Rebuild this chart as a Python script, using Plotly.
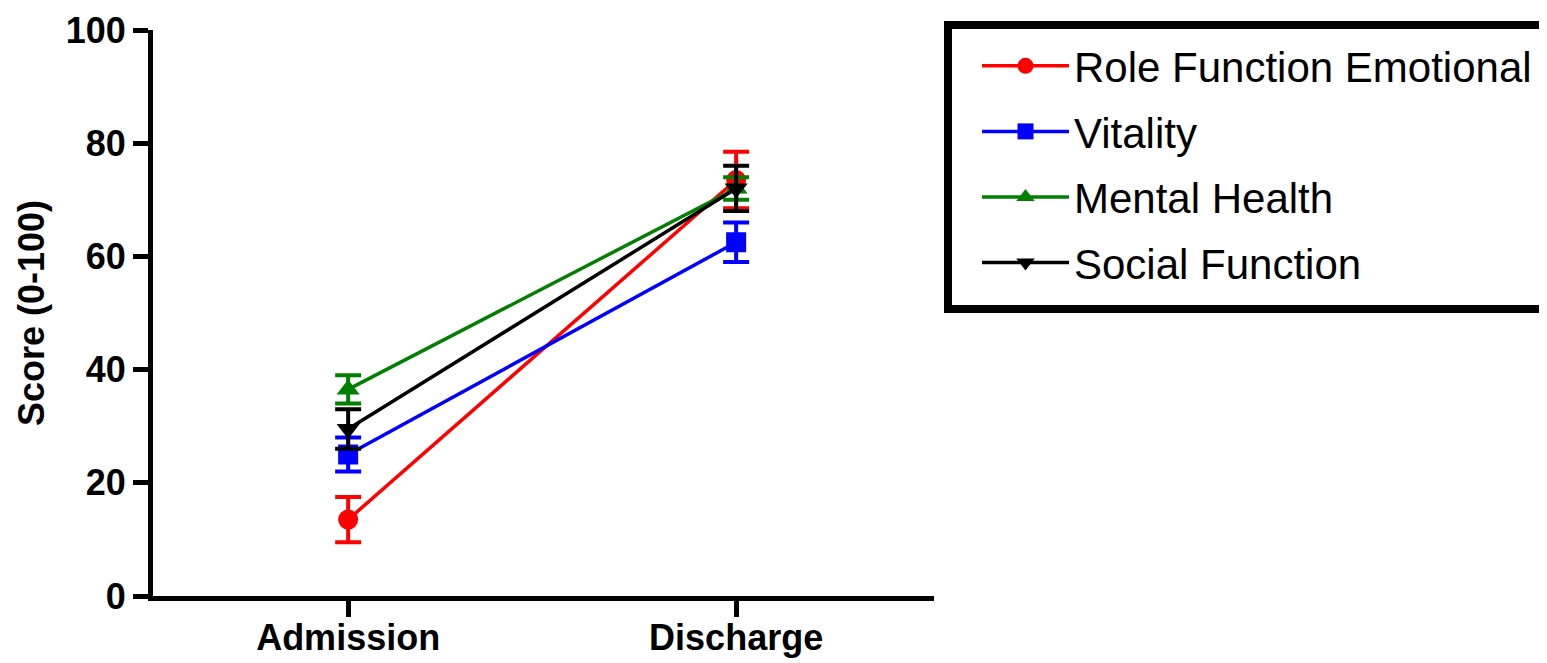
import plotly.graph_objects as go

categories = ["Admission", "Discharge"]
series_names = ["Role Function Emotional", "Vitality", "Mental Health", "Social Function"]
rfe_mean = [13.5, 73.5]
rfe_err = [4.0, 5.0]
vit_mean = [25.0, 62.5]
vit_err = [3.0, 3.5]
mh_mean = [36.5, 72.0]
mh_err = [2.5, 2.0]
sf_mean = [29.5, 72.0]
sf_err = [3.5, 4.0]
y_ticks = [0, 20, 40, 60, 80, 100]

colors = ["#ff0000", "#0000ff", "#008000", "#000000"]
symbols = ["circle", "square", "triangle-up", "triangle-down"]
means = [rfe_mean, vit_mean, mh_mean, sf_mean]
errs = [rfe_err, vit_err, mh_err, sf_err]

FONT = "Arial, Liberation Sans, sans-serif"

# page has an 8px body margin; figure is sized to end at the window edge
W, H, OFF = 1547 - 8, 663 - 8, 8
PL, PR, PT, PB = 153, 934, 30, 596  # plot area in page pixels

fig = go.Figure()
for i, name in enumerate(series_names):
    fig.add_trace(go.Scatter(
        x=categories, y=means[i], name=name, mode="lines+markers",
        legendgroup=name,
        line=dict(color=colors[i], width=3.5),
        marker=dict(symbol=symbols[i], size=20, color=colors[i]),
        error_y=dict(type="data", array=errs[i], color=colors[i], thickness=4, width=13),
    ))

def px_x(p):
    return (p - PL) / (PR - PL)

def px_y(p):
    return (PB - p) / (PB - PT)

# legend frame
fig.add_shape(type="rect", xref="paper", yref="paper",
              x0=px_x(948), x1=px_x(1543), y0=px_y(309), y1=px_y(25),
              line=dict(color="black", width=8), fillcolor="rgba(0,0,0,0)", layer="above")

fig.update_layout(
    width=W, height=H,
    paper_bgcolor="white", plot_bgcolor="white",
    margin=dict(l=PL - OFF, r=1547 - PR, t=PT - OFF, b=663 - PB, autoexpand=False),
    font=dict(family=FONT, color="black"),
    xaxis=dict(
        type="category", range=[-0.503, 1.51], automargin=False,
        showline=True, linecolor="black", linewidth=5,
        ticks="outside", tickwidth=5, ticklen=16, tickcolor="black",
        ticklabelstandoff=-10,
        tickfont=dict(family=FONT, size=36, color="black", weight="bold"),
        showgrid=False, zeroline=False,
    ),
    yaxis=dict(
        range=[0, 100], tickvals=y_ticks, automargin=False,
        showline=True, linecolor="black", linewidth=5,
        ticks="outside", tickwidth=5, ticklen=15, tickcolor="black",
        tickfont=dict(family=FONT, size=36, color="black", weight="bold"),
        showgrid=False, zeroline=False,
        title=dict(text="Score (0-100)", standoff=12,
                   font=dict(family=FONT, size=36, color="black", weight="bold")),
    ),
    legend=dict(
        xref="container", yref="container",
        x=(977 - OFF) / W, y=1 - (32 - OFF) / H, xanchor="left", yanchor="top",
        borderwidth=0, bgcolor="rgba(0,0,0,0)",
        font=dict(family=FONT, size=42, color="black"),
        itemwidth=87, tracegroupgap=8, traceorder="grouped",
    ),
    showlegend=True,
)

fig.write_html("out.html")
